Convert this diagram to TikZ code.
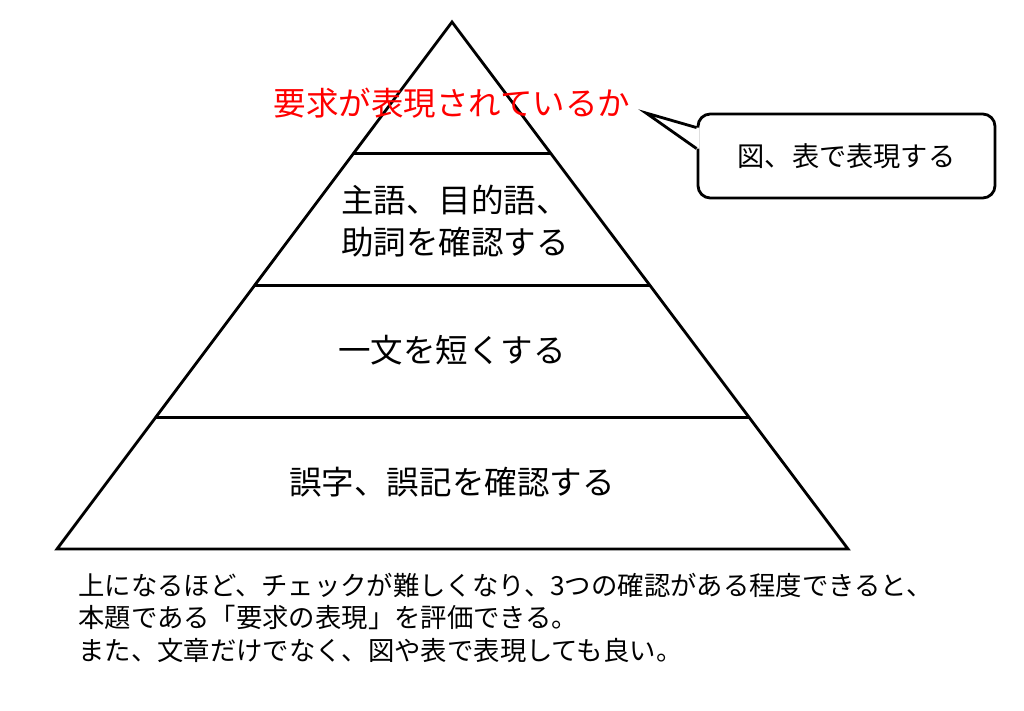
\documentclass[tikz,border=0pt]{standalone}
\usepackage{fontspec}
\newfontfamily\jp{Noto Sans CJK JP}
\usetikzlibrary{calc, positioning}

\begin{document}
\begin{tikzpicture}[
        x=0.02cm, y=-0.02cm,
        edge/.style={line width=1.6pt, line join=miter},
        level/.style={font=\jp\fontsize{18.5}{23.8}\selectfont, align=center, inner sep=0pt},
        bubble/.style={draw, line width=1.6pt, rounded corners=7pt, minimum width=297*0.02cm, minimum height=84*0.02cm, font=\jp\fontsize{15.5}{18}\selectfont},
        note/.style={font=\jp\fontsize{15}{18.7}\selectfont, anchor=west, inner sep=0pt}
    ]

    \useasboundingbox (0,0) rectangle (1024,710);

    % pyramid
    \coordinate (apex) at (452,22);
    \coordinate (bl) at (57,549);
    \coordinate (br) at (848,549);
    \draw[edge] (apex) -- (bl) -- (br) -- cycle;
    \foreach \f in {0.25, 0.5, 0.75}
        \draw[edge] ($(apex)!\f!(bl)$) -- ($(apex)!\f!(br)$);

    % levels
    \node[level, text=red] (goal) at (452,103) {要求が表現されているか};
    \node[level] (grammar) at (455,221) {主語、目的語、\\助詞を確認する};
    \node[level] (short) at (452,350) {一文を短くする};
    \node[level] (typo) at (452,482) {誤字、誤記を確認する};

    % callout
    \node[bubble] (callout) at (846.5,156) {図、表で表現する};
    \coordinate (tip) at (646,113);
    \coordinate (p1) at ($(callout.north west)+(0,15)$);
    \coordinate (p2) at ($(callout.north west)+(0,36)$);
    \fill[white] (tip) -- (p1) -- ($(p1)+(3,0)$) -- ($(p2)+(3,0)$) -- (p2) -- cycle;
    \draw[edge] (p1) -- (tip) -- (p2);

    % note
    \node[note] (note1) at (78,585) {上になるほど、チェックが難しくなり、3つの確認がある程度できると、};
    \node[note] (note2) at (78,617) {本題である「要求の表現」を評価できる。};
    \node[note] (note3) at (78,651) {また、文章だけでなく、図や表で表現しても良い。};
\end{tikzpicture}
\end{document}
